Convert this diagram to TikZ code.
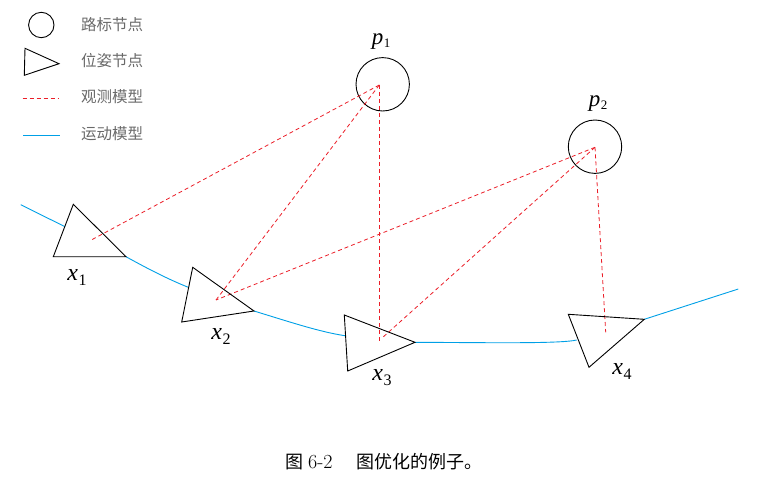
\documentclass[tikz,border=0pt]{standalone}
\usepackage{fontspec}
\newfontfamily\cjk{Noto Sans CJK SC}
\newfontfamily\lmr{Latin Modern Roman}
\newfontfamily\tms{Liberation Serif}
\newcommand\poselbl[2]{{\tms\itshape\fontsize{24}{24}\selectfont #1}\kern0.5pt\raisebox{-5pt}{\tms\fontsize{16}{16}\selectfont #2}}
\newcommand\lmlbl[2]{{\tms\itshape\fontsize{23}{23}\selectfont #1}\kern0.5pt\raisebox{-3pt}{\tms\fontsize{13}{13}\selectfont #2}}
\definecolor{motblue}{RGB}{0,160,230}
\definecolor{obsred}{RGB}{235,30,40}
\definecolor{legtext}{RGB}{105,105,105}
\begin{document}
\begin{tikzpicture}[x=1pt,y=-1pt,
  pose/.style={draw=black,line width=0.9pt,line join=miter},
  landmark/.style={draw=black,line width=0.9pt},
  obs/.style={draw=obsred,line width=0.8pt,dash pattern=on 4pt off 3pt},
  mot/.style={draw=motblue,line width=0.9pt},
  lab/.style={inner sep=0pt},
  leg/.style={inner sep=0pt,anchor=west,text=legtext,font=\cjk\fontsize{15.5}{17}\selectfont},
  captext/.style={inner sep=0pt,font=\cjk\fontsize{18}{20}\selectfont}]
\useasboundingbox (0,0) rectangle (778,492);
% legend
\draw[landmark] (41.3,25) circle (12.7);
\node[leg] (l1) at (81,25) {路标节点};
\draw[pose] (25,48.3) -- (59,63.7) -- (24.3,75.3) -- cycle;
\node[leg] (l2) at (81,61) {位姿节点};
\coordinate (d1) at (22.7,98.3); \coordinate (d2) at (59.3,98.3);
\draw[obs] (d1) -- (d2);
\node[leg] (l3) at (81,97) {观测模型};
\coordinate (m1) at (23,135); \coordinate (m2) at (60,135);
\draw[mot] (m1) -- (m2);
\node[leg] (l4) at (81,134) {运动模型};
% landmarks
\node[landmark,circle,minimum size=53.4pt,inner sep=0pt] (p1) at (382.7,84.3) {};
\node[landmark,circle,minimum size=53.4pt,inner sep=0pt] (p2) at (595,146.7) {};
\node[lab] (p1l) at (381,42) {\lmlbl{p}{1}};
\node[lab] (p2l) at (598,104) {\lmlbl{p}{2}};
\coordinate (f1) at (379.3,85);
\coordinate (f2) at (595,147.3);
% poses
\coordinate (a1) at (73.3,204.3); \coordinate (b1) at (53.3,256.7); \coordinate (c1) at (126,256.7);
\coordinate (a2) at (192.7,267.3); \coordinate (b2) at (181.7,322); \coordinate (c2) at (254,311);
\coordinate (a3) at (344.3,315); \coordinate (b3) at (347.7,371); \coordinate (c3) at (415,342.3);
\coordinate (a4) at (568.3,314.3); \coordinate (b4) at (589,367.3); \coordinate (c4) at (644.3,319.3);
\coordinate (g1) at (90,240.7);
\coordinate (g2) at (216,300);
\coordinate (g3) at (379.3,341.7);
\coordinate (g3b) at (382,338);
\coordinate (g4) at (605.7,332.3);
% motion
\coordinate (s0) at (20.7,204.7); \coordinate (s1) at (65,226.7);
\coordinate (e2) at (188.3,287.3); \coordinate (e3) at (345,335.7); \coordinate (e4) at (576.7,340);
\coordinate (s5) at (738.3,289);
\draw[mot] (s0) -- (s1);
\draw[mot] (c1) .. controls (150,270) and (170,280) .. (e2);
\draw[mot] (c2) .. controls (290,322) and (320,332) .. (e3);
\draw[mot] (c3) .. controls (480,342.5) and (560,344) .. (e4);
\draw[mot] (c4) -- (s5);
% observations
\draw[obs] (f1) -- (g1);
\draw[obs] (f1) -- (g2);
\draw[obs] (f1) -- (g3);
\draw[obs] (f2) -- (g2);
\draw[obs] (f2) -- (g3b);
\draw[obs] (f2) -- (g4);
% triangles
\draw[pose] (a1) -- (c1) -- (b1) -- cycle;
\draw[pose] (a2) -- (c2) -- (b2) -- cycle;
\draw[pose] (a3) -- (c3) -- (b3) -- cycle;
\draw[pose] (a4) -- (c4) -- (b4) -- cycle;
\node[lab] (x1) at (77,277) {\poselbl{x}{1}};
\node[lab] (x2) at (221,336) {\poselbl{x}{2}};
\node[lab] (x3) at (382,378) {\poselbl{x}{3}};
\node[lab] (x4) at (622,371) {\poselbl{x}{4}};
% caption
\node[captext,anchor=west] (caption) at (285,462) {图\hspace{5pt}{\lmr\fontsize{20}{20}\selectfont 6-2}\hspace{24pt}图优化的例子。};
\end{tikzpicture}
\end{document}
